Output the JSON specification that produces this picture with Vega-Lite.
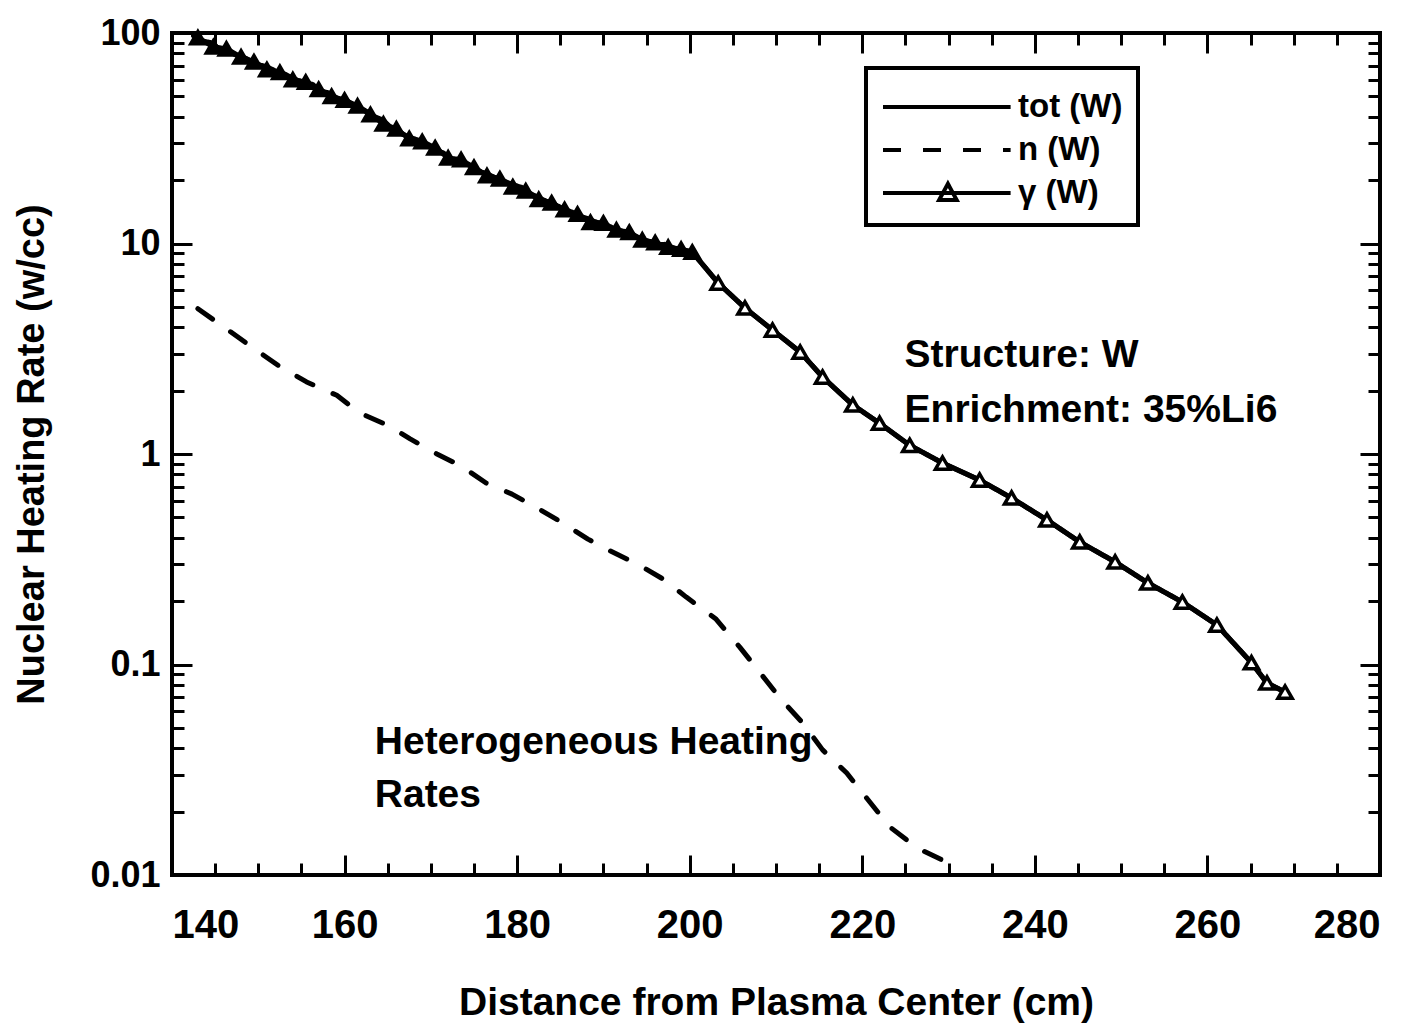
{
  "$schema": "https://vega.github.io/schema/vega-lite/v6.json",
  "width": 1208,
  "height": 842,
  "autosize": {"type": "none"},
  "padding": {"left": 172, "top": 33, "right": 42, "bottom": 160},
  "background": "white",
  "config": {
    "view": {"stroke": "black", "strokeWidth": 4},
    "font": "Liberation Sans",
    "axis": {"grid": false, "domain": false, "tickColor": "black", "tickWidth": 3, "labelColor": "black", "titleColor": "black"}
  },
  "datasets": {
    "lines": [
      {"series": "tot (W)", "x": 142.5, "y": 97},
      {"series": "tot (W)", "x": 143.2, "y": 92},
      {"series": "tot (W)", "x": 144.5, "y": 90},
      {"series": "tot (W)", "x": 145.5, "y": 84},
      {"series": "tot (W)", "x": 146.5, "y": 83},
      {"series": "tot (W)", "x": 147.3, "y": 79},
      {"series": "tot (W)", "x": 148.5, "y": 76},
      {"series": "tot (W)", "x": 149.8, "y": 71},
      {"series": "tot (W)", "x": 151, "y": 69},
      {"series": "tot (W)", "x": 152, "y": 66},
      {"series": "tot (W)", "x": 153, "y": 64},
      {"series": "tot (W)", "x": 154, "y": 61},
      {"series": "tot (W)", "x": 155.2, "y": 58},
      {"series": "tot (W)", "x": 156.3, "y": 57},
      {"series": "tot (W)", "x": 157.2, "y": 53},
      {"series": "tot (W)", "x": 158.1, "y": 52},
      {"series": "tot (W)", "x": 159.5, "y": 48},
      {"series": "tot (W)", "x": 160.5, "y": 47},
      {"series": "tot (W)", "x": 161.5, "y": 44},
      {"series": "tot (W)", "x": 162.3, "y": 43},
      {"series": "tot (W)", "x": 163.5, "y": 40},
      {"series": "tot (W)", "x": 164.5, "y": 38.5},
      {"series": "tot (W)", "x": 165.5, "y": 35},
      {"series": "tot (W)", "x": 166.4, "y": 33.5},
      {"series": "tot (W)", "x": 167.5, "y": 32},
      {"series": "tot (W)", "x": 168.5, "y": 31},
      {"series": "tot (W)", "x": 169.5, "y": 29.5},
      {"series": "tot (W)", "x": 170.5, "y": 27.5},
      {"series": "tot (W)", "x": 171.4, "y": 27},
      {"series": "tot (W)", "x": 172.5, "y": 25},
      {"series": "tot (W)", "x": 173.5, "y": 24.5},
      {"series": "tot (W)", "x": 174.5, "y": 23.5},
      {"series": "tot (W)", "x": 175.5, "y": 22},
      {"series": "tot (W)", "x": 176.4, "y": 21.5},
      {"series": "tot (W)", "x": 177.5, "y": 20.5},
      {"series": "tot (W)", "x": 178.5, "y": 19.8},
      {"series": "tot (W)", "x": 179.5, "y": 19},
      {"series": "tot (W)", "x": 180.5, "y": 18.5},
      {"series": "tot (W)", "x": 181.5, "y": 17.3},
      {"series": "tot (W)", "x": 182.5, "y": 16.5},
      {"series": "tot (W)", "x": 183.5, "y": 15.8},
      {"series": "tot (W)", "x": 184.7, "y": 15},
      {"series": "tot (W)", "x": 185.8, "y": 14.2},
      {"series": "tot (W)", "x": 187, "y": 13.5},
      {"series": "tot (W)", "x": 188, "y": 13.2},
      {"series": "tot (W)", "x": 188.8, "y": 12.8},
      {"series": "tot (W)", "x": 190, "y": 12.3},
      {"series": "tot (W)", "x": 191, "y": 11.8},
      {"series": "tot (W)", "x": 192, "y": 11.4},
      {"series": "tot (W)", "x": 193, "y": 11.1},
      {"series": "tot (W)", "x": 194.2, "y": 10.6},
      {"series": "tot (W)", "x": 195.3, "y": 10.2},
      {"series": "tot (W)", "x": 196.2, "y": 9.9},
      {"series": "tot (W)", "x": 197.1, "y": 9.9},
      {"series": "tot (W)", "x": 198.2, "y": 9.5},
      {"series": "tot (W)", "x": 199.2, "y": 9.3},
      {"series": "tot (W)", "x": 200.3, "y": 9.1},
      {"series": "tot (W)", "x": 203.3, "y": 6.49},
      {"series": "tot (W)", "x": 206.4, "y": 4.94},
      {"series": "tot (W)", "x": 209.6, "y": 3.88},
      {"series": "tot (W)", "x": 212.8, "y": 3.05},
      {"series": "tot (W)", "x": 215.4, "y": 2.32},
      {"series": "tot (W)", "x": 218.9, "y": 1.71},
      {"series": "tot (W)", "x": 222.0, "y": 1.40},
      {"series": "tot (W)", "x": 225.5, "y": 1.10},
      {"series": "tot (W)", "x": 229.3, "y": 0.906},
      {"series": "tot (W)", "x": 233.6, "y": 0.752},
      {"series": "tot (W)", "x": 237.3, "y": 0.618},
      {"series": "tot (W)", "x": 241.4, "y": 0.486},
      {"series": "tot (W)", "x": 245.2, "y": 0.382},
      {"series": "tot (W)", "x": 249.3, "y": 0.307},
      {"series": "tot (W)", "x": 253.1, "y": 0.244},
      {"series": "tot (W)", "x": 257.1, "y": 0.198},
      {"series": "tot (W)", "x": 261.1, "y": 0.154},
      {"series": "tot (W)", "x": 265.1, "y": 0.102},
      {"series": "tot (W)", "x": 266.9, "y": 0.0817},
      {"series": "tot (W)", "x": 269.0, "y": 0.074},
      {"series": "n (W)", "x": 143.0, "y": 4.9},
      {"series": "n (W)", "x": 146.5, "y": 3.88},
      {"series": "n (W)", "x": 149.5, "y": 3.17},
      {"series": "n (W)", "x": 152.4, "y": 2.62},
      {"series": "n (W)", "x": 155.6, "y": 2.2},
      {"series": "n (W)", "x": 159.1, "y": 1.9},
      {"series": "n (W)", "x": 161.7, "y": 1.57},
      {"series": "n (W)", "x": 165.0, "y": 1.37},
      {"series": "n (W)", "x": 167.6, "y": 1.18},
      {"series": "n (W)", "x": 170.7, "y": 1.0},
      {"series": "n (W)", "x": 173.5, "y": 0.877},
      {"series": "n (W)", "x": 176.4, "y": 0.728},
      {"series": "n (W)", "x": 179.4, "y": 0.645},
      {"series": "n (W)", "x": 182.4, "y": 0.552},
      {"series": "n (W)", "x": 185.1, "y": 0.475},
      {"series": "n (W)", "x": 188.2, "y": 0.394},
      {"series": "n (W)", "x": 190.8, "y": 0.346},
      {"series": "n (W)", "x": 194.0, "y": 0.299},
      {"series": "n (W)", "x": 197.1, "y": 0.252},
      {"series": "n (W)", "x": 199.6, "y": 0.209},
      {"series": "n (W)", "x": 203.0, "y": 0.165},
      {"series": "n (W)", "x": 205.8, "y": 0.121},
      {"series": "n (W)", "x": 208.1, "y": 0.092},
      {"series": "n (W)", "x": 210.5, "y": 0.069},
      {"series": "n (W)", "x": 213.1, "y": 0.0527},
      {"series": "n (W)", "x": 215.4, "y": 0.0393},
      {"series": "n (W)", "x": 218.2, "y": 0.0305},
      {"series": "n (W)", "x": 220.5, "y": 0.0232},
      {"series": "n (W)", "x": 223.2, "y": 0.0169},
      {"series": "n (W)", "x": 226.4, "y": 0.0134},
      {"series": "n (W)", "x": 229.8, "y": 0.0115},
      {"series": "n (W)", "x": 230.5, "y": 0.0106},
      {"series": "γ (W)", "x": 143, "y": 95},
      {"series": "γ (W)", "x": 144.8, "y": 86},
      {"series": "γ (W)", "x": 146.3, "y": 84},
      {"series": "γ (W)", "x": 148, "y": 77},
      {"series": "γ (W)", "x": 149.5, "y": 73},
      {"series": "γ (W)", "x": 151, "y": 67},
      {"series": "γ (W)", "x": 152.5, "y": 65},
      {"series": "γ (W)", "x": 154, "y": 60},
      {"series": "γ (W)", "x": 155.5, "y": 58.5},
      {"series": "γ (W)", "x": 157, "y": 54},
      {"series": "γ (W)", "x": 158.5, "y": 50},
      {"series": "γ (W)", "x": 160, "y": 48},
      {"series": "γ (W)", "x": 161.5, "y": 45},
      {"series": "γ (W)", "x": 163, "y": 41},
      {"series": "γ (W)", "x": 164.5, "y": 37},
      {"series": "γ (W)", "x": 166, "y": 35},
      {"series": "γ (W)", "x": 167.5, "y": 31.5},
      {"series": "γ (W)", "x": 169, "y": 30.5},
      {"series": "γ (W)", "x": 170.5, "y": 28.5},
      {"series": "γ (W)", "x": 172, "y": 25.5},
      {"series": "γ (W)", "x": 173.5, "y": 25},
      {"series": "γ (W)", "x": 175, "y": 23},
      {"series": "γ (W)", "x": 176.5, "y": 21},
      {"series": "γ (W)", "x": 178, "y": 20.3},
      {"series": "γ (W)", "x": 179.5, "y": 18.6},
      {"series": "γ (W)", "x": 181, "y": 17.8},
      {"series": "γ (W)", "x": 182.5, "y": 16.2},
      {"series": "γ (W)", "x": 184, "y": 15.6},
      {"series": "γ (W)", "x": 185.5, "y": 14.5},
      {"series": "γ (W)", "x": 187, "y": 13.8},
      {"series": "γ (W)", "x": 188.5, "y": 12.6},
      {"series": "γ (W)", "x": 190, "y": 12.5},
      {"series": "γ (W)", "x": 191.5, "y": 11.6},
      {"series": "γ (W)", "x": 193, "y": 11.3},
      {"series": "γ (W)", "x": 194.5, "y": 10.4},
      {"series": "γ (W)", "x": 196, "y": 10.1},
      {"series": "γ (W)", "x": 197.5, "y": 9.6},
      {"series": "γ (W)", "x": 199, "y": 9.4},
      {"series": "γ (W)", "x": 200.3, "y": 9.1},
      {"series": "γ (W)", "x": 203.3, "y": 6.49},
      {"series": "γ (W)", "x": 206.4, "y": 4.94},
      {"series": "γ (W)", "x": 209.6, "y": 3.88},
      {"series": "γ (W)", "x": 212.8, "y": 3.05},
      {"series": "γ (W)", "x": 215.4, "y": 2.32},
      {"series": "γ (W)", "x": 218.9, "y": 1.71},
      {"series": "γ (W)", "x": 222.0, "y": 1.40},
      {"series": "γ (W)", "x": 225.5, "y": 1.10},
      {"series": "γ (W)", "x": 229.3, "y": 0.906},
      {"series": "γ (W)", "x": 233.6, "y": 0.752},
      {"series": "γ (W)", "x": 237.3, "y": 0.618},
      {"series": "γ (W)", "x": 241.4, "y": 0.486},
      {"series": "γ (W)", "x": 245.2, "y": 0.382},
      {"series": "γ (W)", "x": 249.3, "y": 0.307},
      {"series": "γ (W)", "x": 253.1, "y": 0.244},
      {"series": "γ (W)", "x": 257.1, "y": 0.198},
      {"series": "γ (W)", "x": 261.1, "y": 0.154},
      {"series": "γ (W)", "x": 265.1, "y": 0.102},
      {"series": "γ (W)", "x": 266.9, "y": 0.0817},
      {"series": "γ (W)", "x": 269.0, "y": 0.074}
    ],
    "notes1": [
      {"x": 224.9, "y": 2.95, "label": "Structure: W"},
      {"x": 224.9, "y": 1.62, "label": "Enrichment: 35%Li6"}
    ],
    "notes2": [
      {"x": 163.5, "y": 0.0428, "label": "Heterogeneous Heating"},
      {"x": 163.5, "y": 0.024, "label": "Rates"}
    ]
  },
  "resolve": {"axis": {"x": "independent", "y": "independent"}},
  "layer": [
    {
      "data": {"name": "lines"},
      "mark": {"type": "line", "color": "black", "strokeWidth": 5, "strokeCap": "round", "strokeJoin": "round"},
      "encoding": {
        "x": {"field": "x", "type": "quantitative",
          "scale": {"domain": [140, 280], "nice": false, "zero": false},
          "axis": {"orient": "bottom", "values": [140, 160, 180, 200, 220, 240, 260, 280], "tickSize": -20,
            "labelPadding": 50, "labelFont": "Liberation Sans", "labelFontWeight": "bold", "labelFontSize": 40,
            "title": "Distance from Plasma Center (cm)", "titleFont": "Liberation Sans", "titleFontWeight": "bold",
            "titleFontSize": 39, "titlePadding": 38}},
        "y": {"field": "y", "type": "quantitative",
          "scale": {"type": "log", "domain": [0.01, 100], "nice": false},
          "axis": {"orient": "left", "values": [0.01, 0.1, 1, 10, 100], "tickSize": -20, "labelPadding": 32,
            "labelExpr": "'' + datum.value",
            "labelFont": "Liberation Sans", "labelFontWeight": "bold", "labelFontSize": 36,
            "title": "Nuclear Heating Rate (w/cc)", "titleFont": "Liberation Sans", "titleFontWeight": "bold",
            "titleFontSize": 38, "titlePadding": 38}},
        "strokeDash": {"field": "series", "type": "nominal",
          "scale": {"domain": ["tot (W)", "n (W)", "γ (W)"], "range": [[1, 0], [18, 22], [1, 0]]},
          "legend": {"orient": "none", "legendX": 694, "legendY": 35, "title": null,
            "symbolType": "M-1,0H4.8", "symbolSize": 1936, "symbolStrokeWidth": 4, "symbolStrokeColor": "black",
            "labelFont": "Liberation Sans", "labelFontWeight": "bold", "labelFontSize": 33, "labelColor": "black",
            "labelOffset": 89, "rowPadding": 2, "padding": 15,
            "strokeColor": "black", "fillColor": "white",
            "encode": {
              "legend": {"update": {"strokeWidth": {"value": 4}}},
              "symbols": {"update": {"shape": {"signal": "datum.value === 'γ (W)' ? 'M-1,0H4.8M1.55,0.32L1.95,-0.42L2.35,0.32Z' : 'M-1,0H4.8'"}, "strokeDash": {"signal": "datum.value === 'n (W)' ? [16, 14] : [1, 0]"}}}
            }}}
      }
    },
    {
      "data": {"name": "lines"},
      "transform": [{"filter": "datum.series === 'γ (W)'"}],
      "mark": {"type": "point", "shape": "triangle-up", "filled": true, "stroke": "black", "strokeWidth": 3.5, "size": 200, "opacity": 1},
      "encoding": {
        "x": {"field": "x", "type": "quantitative",
          "axis": {"orient": "bottom", "values": [145, 150, 155, 165, 170, 175, 185, 190, 195, 205, 210, 215, 225, 230, 235, 245, 250, 255, 265, 270, 275],
            "tickSize": -12, "labels": false, "title": null}},
        "y": {"field": "y", "type": "quantitative",
          "axis": {"orient": "left", "values": [0.02, 0.03, 0.04, 0.05, 0.06, 0.07, 0.08, 0.09, 0.2, 0.3, 0.4, 0.5, 0.6, 0.7, 0.8, 0.9, 2, 3, 4, 5, 6, 7, 8, 9, 20, 30, 40, 50, 60, 70, 80, 90],
            "tickSize": -12, "labels": false, "title": null}},
        "fill": {"condition": {"test": "datum.x < 201", "value": "black"}, "value": "white"}
      }
    },
    {
      "data": {"name": "notes1"},
      "mark": {"type": "text", "align": "left", "baseline": "middle", "font": "Liberation Sans", "fontWeight": "bold", "fontSize": 39, "color": "black"},
      "encoding": {
        "x": {"field": "x", "type": "quantitative",
          "axis": {"orient": "top", "values": [140, 160, 180, 200, 220, 240, 260, 280], "tickSize": -20, "labels": false, "title": null}},
        "y": {"field": "y", "type": "quantitative",
          "axis": {"orient": "right", "values": [0.01, 0.1, 1, 10, 100], "tickSize": -20, "labels": false, "title": null}},
        "text": {"field": "label"}
      }
    },
    {
      "data": {"name": "notes2"},
      "mark": {"type": "text", "align": "left", "baseline": "middle", "font": "Liberation Sans", "fontWeight": "bold", "fontSize": 39, "color": "black"},
      "encoding": {
        "x": {"field": "x", "type": "quantitative",
          "axis": {"orient": "top", "values": [145, 150, 155, 165, 170, 175, 185, 190, 195, 205, 210, 215, 225, 230, 235, 245, 250, 255, 265, 270, 275],
            "tickSize": -12, "labels": false, "title": null}},
        "y": {"field": "y", "type": "quantitative",
          "axis": {"orient": "right", "values": [0.02, 0.03, 0.04, 0.05, 0.06, 0.07, 0.08, 0.09, 0.2, 0.3, 0.4, 0.5, 0.6, 0.7, 0.8, 0.9, 2, 3, 4, 5, 6, 7, 8, 9, 20, 30, 40, 50, 60, 70, 80, 90],
            "tickSize": -12, "labels": false, "title": null}},
        "text": {"field": "label"}
      }
    }
  ]
}
